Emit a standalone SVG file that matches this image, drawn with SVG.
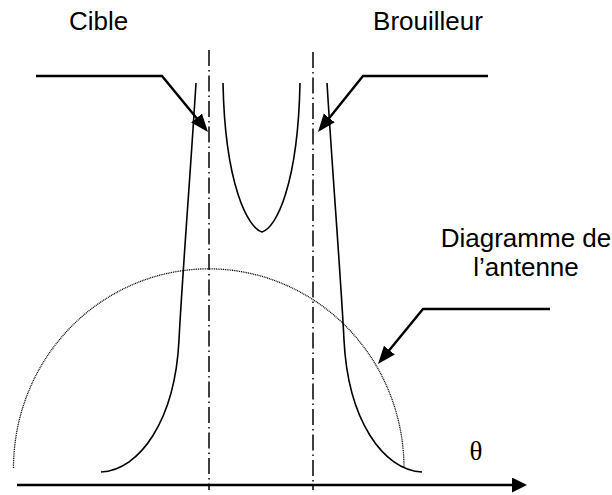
<svg xmlns="http://www.w3.org/2000/svg" width="612" height="495" viewBox="0 0 612 495">
<style>
.lbl{font-family:"Liberation Sans",Arial,sans-serif;font-size:26px;fill:#000}
.sym{font-family:"Liberation Serif","Times New Roman",serif;font-size:27px;fill:#000}
.beam{fill:none;stroke:#000;stroke-width:1.6}
.axisdd{fill:none;stroke:#000;stroke-width:1.5;stroke-dasharray:16 4 1.5 4}
.pattern{fill:none;stroke:#000;stroke-width:1.3;stroke-dasharray:1 0.8}
.leader{fill:none;stroke:#000;stroke-width:2.4}
</style>
<defs>
<marker id="ah" markerUnits="userSpaceOnUse" markerWidth="20" markerHeight="16" refX="8" refY="7" orient="auto">
<path d="M0,0 L18,7 L0,14 z" fill="#000"/>
</marker>
<marker id="ax" markerUnits="userSpaceOnUse" markerWidth="18" markerHeight="16" refX="5" refY="7.5" orient="auto">
<path d="M0,0 L15,7.5 L0,15 z" fill="#000"/>
</marker>
</defs>
<rect width="612" height="495" fill="#fff"/>
<g id="curves">
<path class="axisdd" d="M209,50 V490"/>
<path class="axisdd" d="M313,52 V490"/>
<path class="beam" d="M196,83 C190,180 182,280 179,340 C175,420 140,470 101,472"/>
<path class="beam" d="M327,83 C333,180 341,280 344,340 C348,420 383,470 422,472"/>
<path class="beam" d="M223,83 C225,185 248,228 262,232 C276,228 298,185 300,83"/>
<path class="pattern" d="M13.5,468 A195,199 0 0 1 404,468"/>
</g>
<g id="label-cible"><text class="lbl" x="98.5" y="30" text-anchor="middle">Cible</text></g>
<g id="label-brouilleur"><text class="lbl" x="428" y="30" text-anchor="middle">Brouilleur</text></g>
<g id="label-antenne"><text class="lbl" x="526" y="247" text-anchor="middle">Diagramme de</text><text class="lbl" x="526" y="276" text-anchor="middle">l’antenne</text></g>
<g id="label-theta"><text class="sym" x="476" y="460" text-anchor="middle">θ</text></g>
<g id="connectors">
<path class="leader" d="M36,76 H162 L201.65,124.27" marker-end="url(#ah)"/>
<path class="leader" d="M488,76 H363 L324.26,124.2" marker-end="url(#ah)"/>
<path class="leader" d="M550,309 H423 L384.33,356.26" marker-end="url(#ah)"/>
<path class="leader" d="M17,485 H517" marker-end="url(#ax)"/>
</g>
</svg>
